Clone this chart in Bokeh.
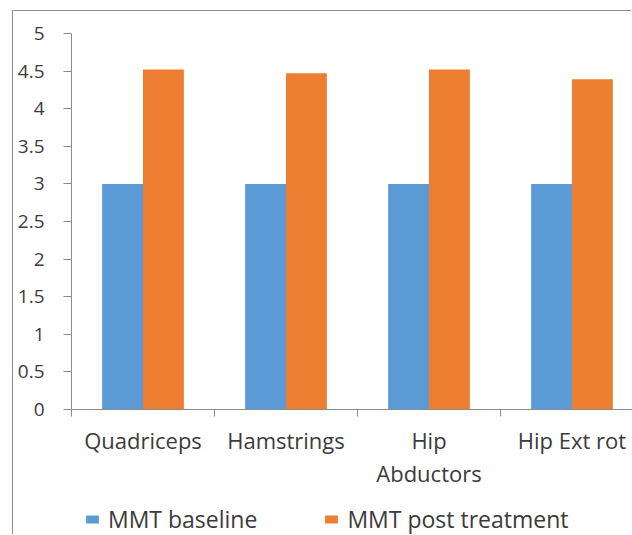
from bokeh.plotting import figure
from bokeh.layouts import column
from bokeh.models import (ColumnDataSource, Range1d, FixedTicker, Legend, LegendItem)
from bokeh.embed import file_html
from bokeh.resources import INLINE
import numpy as np

# ---- data ----
categories = ["Quadriceps", "Hamstrings", "Hip\nAbductors", "Hip Ext rot"]
baseline = [3.0, 3.0, 3.0, 3.0]
post_treatment = [4.52, 4.47, 4.52, 4.39]
series_names = ["MMT baseline", "MMT post treatment"]
y_ticks = [0, 0.5, 1, 1.5, 2, 2.5, 3, 3.5, 4, 4.5, 5]
y_tick_labels = ["0", "0.5", "1", "1.5", "2", "2.5", "3", "3.5", "4", "4.5", "5"]

# ---- style ----
BLUE = "#5B9BD5"
ORANGE = "#ED7D31"
AXIS = "#8c8c8c"
TEXT = "#3b3b3b"
FONT = "Open Sans"

n = len(categories)
gap = 1.5                       # gap width relative to one bar
bar_w = 1.0 / (2 + gap)
centers = np.arange(n) + 0.5
src = ColumnDataSource(dict(
    xb=centers - bar_w / 2, xp=centers + bar_w / 2,
    base=baseline, post=post_treatment))

W = 619
p = figure(width=W, height=490, output_backend="svg", toolbar_location=None,
           x_range=Range1d(0, 561 / 143), y_range=Range1d(0, 5),
           min_border_left=58, min_border_top=22, min_border_bottom=92,
           min_border_right=0)
p.outline_line_color = None
p.background_fill_color = "white"
p.border_fill_color = "white"
p.xgrid.visible = False
p.ygrid.visible = False

rb = p.vbar(x="xb", top="base", width=bar_w, source=src, fill_color=BLUE, line_color=None)
rp = p.vbar(x="xp", top="post", width=bar_w, source=src, fill_color=ORANGE, line_color=None)

# x axis: labels at category centres, tick marks between categories
xa = p.xaxis[0]
xa.ticker = FixedTicker(ticks=list(centers), minor_ticks=list(range(n + 1)))
xa.major_label_overrides = {float(c): lab for c, lab in zip(centers, categories)}
xa.major_tick_out = 0
xa.major_tick_in = 0
xa.minor_tick_out = 7
xa.minor_tick_in = 0
xa.minor_tick_line_color = AXIS
xa.axis_line_color = AXIS
xa.major_label_text_font = FONT
xa.major_label_text_font_size = "22px"
xa.major_label_text_color = TEXT
xa.major_label_text_line_height = 1.1
xa.major_label_standoff = 8

ya = p.yaxis[0]
ya.ticker = FixedTicker(ticks=y_ticks, minor_ticks=[])
ya.major_label_overrides = {float(t): s for t, s in zip(y_ticks, y_tick_labels)}
ya.major_tick_out = 8
ya.major_tick_in = 0
ya.minor_tick_out = 0
ya.minor_tick_in = 0
ya.major_tick_line_color = AXIS
ya.axis_line_color = AXIS
ya.major_label_text_font = FONT
ya.major_label_text_font_size = "19px"
ya.major_label_text_color = TEXT
ya.major_label_standoff = 19

# legend strip below the chart; its swatch renderers share the data but lie
# outside this strip's visible range, so only the legend shows
LH = 34
q = figure(width=W, height=LH, output_backend="svg", toolbar_location=None,
           x_axis_type=None, y_axis_type=None,
           x_range=p.x_range, y_range=Range1d(10, 11),
           min_border=0)
q.outline_line_color = None
q.xgrid.visible = False
q.ygrid.visible = False
lb = q.vbar(x="xb", top="base", width=bar_w, source=src, fill_color=BLUE, line_color=None)
lp = q.vbar(x="xp", top="post", width=bar_w, source=src, fill_color=ORANGE, line_color=None)
legend = Legend(items=[LegendItem(label=series_names[0], renderers=[lb], index=0),
                       LegendItem(label=series_names[1], renderers=[lp], index=0)],
                orientation="horizontal", location=(13, 0),
                glyph_width=16, glyph_height=10, label_standoff=8,
                spacing=66, padding=0, margin=0,
                border_line_color=None, background_fill_alpha=0,
                label_text_font=FONT, label_text_font_size="23px",
                label_text_color=TEXT)
q.add_layout(legend, "center")

layout = column(p, q, spacing=0)
layout.margin = (11, 0, 0, 13)
layout.styles = {"box-shadow": "-1px -1px 0 0 #8c8c8c"}

open("out.html", "w").write(file_html(layout, INLINE))
